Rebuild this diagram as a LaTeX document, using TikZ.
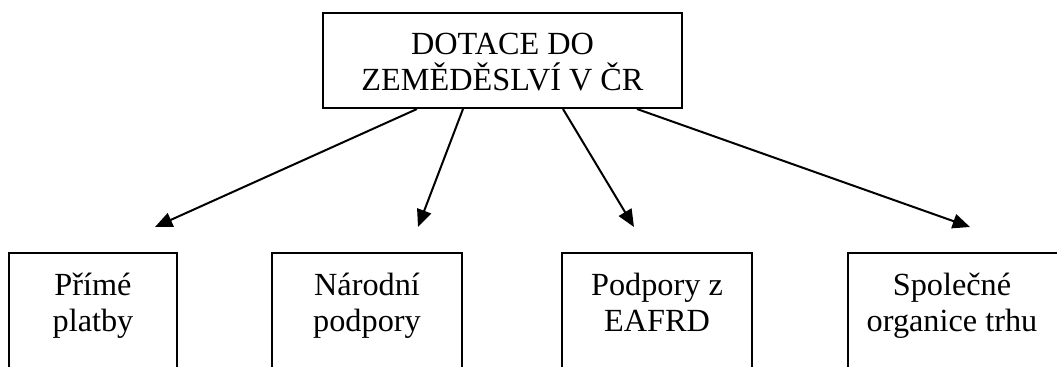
\documentclass[tikz,border=0pt]{standalone}
\usepackage{fontspec}
\setmainfont{Liberation Serif}
\usetikzlibrary{arrows.meta,calc}
\begin{document}
\begin{tikzpicture}[x=0.75pt,y=-0.75pt,
  box/.style={draw=black, line width=1.5pt, rectangle, inner sep=0pt},
  txt/.style={font=\fontsize{24.2pt}{27pt}\selectfont, align=center, inner sep=0pt, anchor=base},
  arr/.style={line width=1.5pt, -{Triangle[length=13pt,width=11pt]}}]
\useasboundingbox (0,0) rectangle (1057,367);
% top box
\node[box, minimum width=269.25pt, minimum height=71.25pt] (top) at (502.5,60.5) {};
\node[txt] (toptxt) at (502.5,91) {DOTACE DO\\ZEMĚDĚSLVÍ V ČR};
% bottom boxes (cut off by the page edge)
\node[box, minimum width=126pt, minimum height=110.25pt] (b1) at (93,326.5) {};
\node[box, minimum width=142.5pt, minimum height=110.25pt] (b2) at (367,326.5) {};
\node[box, minimum width=142.5pt, minimum height=110.25pt] (b3) at (657,326.5) {};
\node[box, minimum width=160.5pt, minimum height=110.25pt] (b4) at (955,326.5) {};
\node[txt] (t1) at (93,331) {Přímé\\platby};
\node[txt] (t2) at (367,331) {Národní\\podpory};
\node[txt] (t3) at (657,331) {Podpory z\\EAFRD};
\node[txt] (t4) at (952,331) {Společné\\organice trhu};
% arrow tips
\coordinate (e1) at ($(b1.north)+(62,-25)$);
\coordinate (e2) at ($(b2.north)+(51,-25)$);
\coordinate (e3) at ($(b3.north)+(-23,-25)$);
\coordinate (e4) at ($(b4.north)+(15,-25)$);
\draw[arr] ($(top.south)+(-85.5,0)$) -- (e1);
\draw[arr] ($(top.south)+(-39.5,0)$) -- (e2);
\draw[arr] ($(top.south)+(60.5,0)$) -- (e3);
\draw[arr] ($(top.south)+(134.5,0)$) -- (e4);
\end{tikzpicture}
\end{document}
